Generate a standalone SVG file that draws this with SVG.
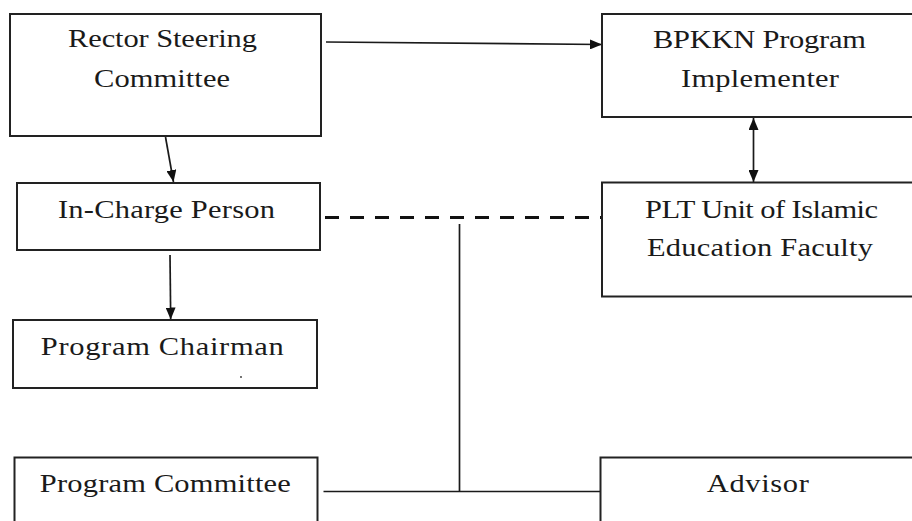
<svg xmlns="http://www.w3.org/2000/svg" width="912" height="521" viewBox="0 0 912 521">
<defs>
<style>
.box{fill:#fff;stroke:#222;stroke-width:2}
.t{font-family:"Liberation Serif","DejaVu Serif",serif;font-size:25px;fill:#1a1a1a;text-anchor:middle}
.ln{stroke:#1a1a1a;stroke-width:1.7;fill:none}
.dash{stroke:#111;stroke-width:3;stroke-dasharray:14 11;fill:none}
</style>
<marker id="ah" viewBox="0 0 12 10" refX="12" refY="5" markerWidth="12" markerHeight="10" markerUnits="userSpaceOnUse" orient="auto-start-reverse">
<path d="M0,0 L12,5 L0,10 Z" fill="#111"/>
</marker>
</defs>
<rect width="912" height="521" fill="#fff"/>
<g id="connectors">
<line class="ln" x1="326" y1="42" x2="602" y2="44.5" marker-end="url(#ah)"/>
<line class="ln" x1="165.5" y1="137" x2="173.5" y2="182" marker-end="url(#ah)"/>
<line class="ln" x1="753.5" y1="118" x2="753.5" y2="182" marker-start="url(#ah)" marker-end="url(#ah)"/>
<line class="ln" x1="170" y1="255" x2="170.7" y2="319.5" marker-end="url(#ah)"/>
<line class="dash" x1="325" y1="217.5" x2="602" y2="217.5"/>
<line class="ln" x1="459.5" y1="224" x2="459.5" y2="491.5"/>
<line class="ln" x1="323.5" y1="491.5" x2="600.5" y2="491.5"/>
</g>
<g id="rector">
<rect class="box" x="10" y="14" width="311" height="122"/>
<text class="t" transform="translate(162.5,47) scale(1.22,1)" textLength="154.9" lengthAdjust="spacing">Rector Steering</text>
<text class="t" transform="translate(162,87) scale(1.22,1)" textLength="111.5" lengthAdjust="spacing">Committee</text>
</g>
<g id="bpkkn">
<rect class="box" x="602" y="14" width="330" height="103"/>
<text class="t" transform="translate(759.5,48) scale(1.22,1)" textLength="174.6" lengthAdjust="spacing">BPKKN Program</text>
<text class="t" transform="translate(760,87) scale(1.22,1)" textLength="129.5" lengthAdjust="spacing">Implementer</text>
</g>
<g id="plt">
<rect class="box" x="602" y="182.5" width="330" height="114"/>
<text class="t" transform="translate(761.5,218) scale(1.22,1)" textLength="191" lengthAdjust="spacing">PLT Unit of Islamic</text>
<text class="t" transform="translate(760,256) scale(1.22,1)" textLength="185.2" lengthAdjust="spacing">Education Faculty</text>
</g>
<g id="incharge">
<rect class="box" x="17" y="183" width="303" height="67"/>
<text class="t" transform="translate(166.5,218) scale(1.22,1)" textLength="177.9" lengthAdjust="spacing">In-Charge Person</text>
</g>
<g id="chairman">
<rect class="box" x="13" y="320" width="304" height="68"/>
<text class="t" transform="translate(162.3,355) scale(1.22,1)" textLength="199.2" lengthAdjust="spacing">Program Chairman</text>
<circle cx="241" cy="377" r="0.9" fill="#333"/>
</g>
<g id="committee">
<rect class="box" x="14.5" y="457.5" width="303" height="80"/>
<text class="t" transform="translate(165.3,492) scale(1.22,1)" textLength="205.7" lengthAdjust="spacing">Program Committee</text>
</g>
<g id="advisor">
<rect class="box" x="600.5" y="457.5" width="330" height="80"/>
<text class="t" transform="translate(757.8,492) scale(1.22,1)" textLength="83.6" lengthAdjust="spacing">Advisor</text>
</g>
</svg>
